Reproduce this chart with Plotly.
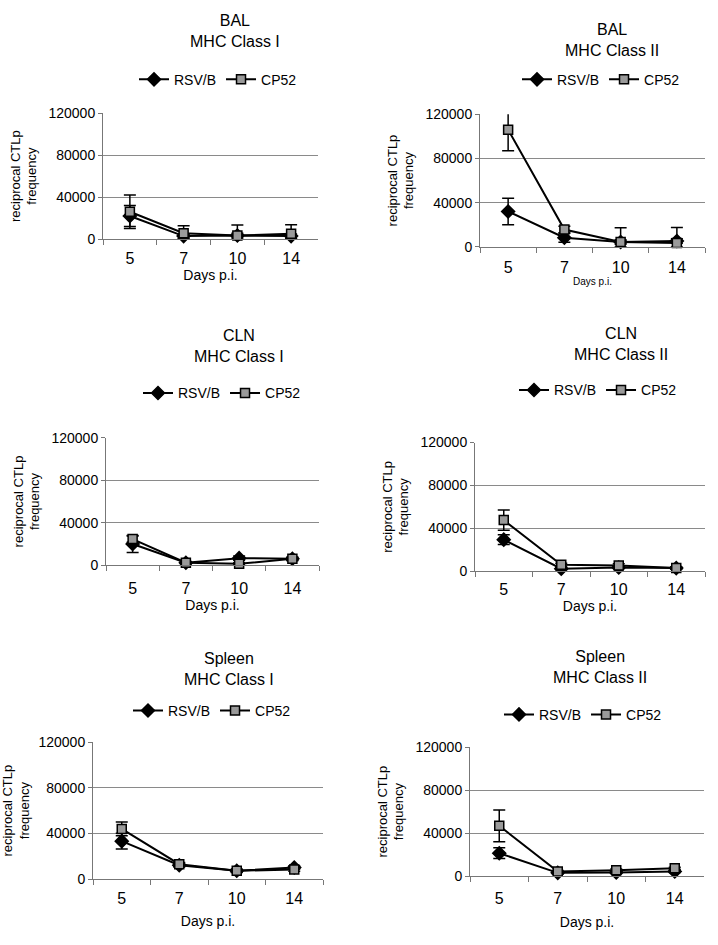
import plotly.graph_objects as go

days = ["5", "7", "10", "14"]

bal1_rsv = [22000, 2800, 3400, 2800]
bal1_rsv_err = [10000, 2000, 2000, 2000]
bal1_cp52 = [26000, 5600, 3400, 5000]
bal1_cp52_err = [16000, 7000, 10000, 8500]

bal2_rsv = [32000, 8300, 4400, 5300]
bal2_rsv_err = [12000, 4000, 2000, 2000]
bal2_cp52 = [106000, 15700, 4400, 3500]
bal2_cp52_err = [19000, 3000, 13000, 14000]

cln1_rsv = [20100, 2500, 6800, 6200]
cln1_rsv_err = [8000, 1000, 2000, 1500]
cln1_cp52 = [24700, 2500, 1500, 6200]
cln1_cp52_err = [3000, 1000, 1000, 1500]

cln2_rsv = [29500, 2400, 3600, 3000]
cln2_rsv_err = [4500, 1000, 1000, 1000]
cln2_cp52 = [47700, 6000, 5500, 3000]
cln2_cp52_err = [9500, 1500, 1500, 1000]

spl1_rsv = [33250, 12100, 7200, 10100]
spl1_rsv_err = [7000, 1500, 1000, 1500]
spl1_cp52 = [43950, 13000, 7200, 8400]
spl1_cp52_err = [6000, 1500, 1500, 1500]

spl2_rsv = [21300, 3000, 3300, 4300]
spl2_rsv_err = [5000, 1000, 1000, 1000]
spl2_cp52 = [46800, 4250, 5500, 7300]
spl2_cp52_err = [14800, 1000, 1000, 1000]

y_ticks = [0, 40000, 80000, 120000]
y_tick_labels = ["0", "40000", "80000", "120000"]
y_title = "reciprocal CTLp<br>frequency"
x_title = "Days p.i."

W, H = 718, 945
FONT = "Liberation Sans, Arial, sans-serif"


def fx(p):
    return p / W


def fy(p):
    return 1 - p / H


# panel: title, rsv, rsv_err, cp, cp_err, (x0,x1,y0,y1) page pixels,
# title center x, title center y, legend center x, legend y,
# x-title font size, tick-label standoff, x-title standoff
panels = [
    ("BAL<br>MHC Class I", bal1_rsv, bal1_rsv_err, bal1_cp52, bal1_cp52_err,
     (103, 318, 107, 235), 235, 23, 218, 73, 14, 5, 2),
    ("BAL<br>MHC Class II", bal2_rsv, bal2_rsv_err, bal2_cp52, bal2_cp52_err,
     (480, 705, 108, 243), 612, 33, 601, 73, 10, 6, 0),
    ("CLN<br>MHC Class I", cln1_rsv, cln1_rsv_err, cln1_cp52, cln1_cp52_err,
     (106, 319, 437, 567), 239, 344, 222, 392, 14, 8, 3),
    ("CLN<br>MHC Class II", cln2_rsv, cln2_rsv_err, cln2_cp52, cln2_cp52_err,
     (475, 705, 442, 573), 621, 342, 598, 389, 14, 4, 2),
    ("Spleen<br>MHC Class I", spl1_rsv, spl1_rsv_err, spl1_cp52, spl1_cp52_err,
     (93, 323, 747, 886), 229, 672, 212, 715, 14, 5, 10),
    ("Spleen<br>MHC Class II", spl2_rsv, spl2_rsv_err, spl2_cp52, spl2_cp52_err,
     (470, 704, 752, 883), 600, 670, 583, 719, 14, 8, 10),
]

fig = go.Figure()
annotations = []
layout = {}

for i, (title, rsv, rsv_e, cp, cp_e, box, tx, ty, lx, ly, xts, tso, xso) in enumerate(panels):
    n = i + 1
    xa = "x" if n == 1 else f"x{n}"
    ya = "y" if n == 1 else f"y{n}"
    lg = "legend" if n == 1 else f"legend{n}"
    x0, x1, y0, y1 = box
    for name, vals, errs, sym, size, fill in [
        ("RSV/B", rsv, rsv_e, "diamond", 10, "black"),
        ("CP52", cp, cp_e, "square", 9, "#9a9a9a"),
    ]:
        fig.add_trace(go.Scatter(
            x=days, y=vals, name=name, mode="lines+markers",
            xaxis=xa, yaxis=ya, legend=lg, cliponaxis=False,
            line=dict(color="black", width=2),
            marker=dict(symbol=sym, size=size, color=fill,
                        line=dict(color="black", width=1.5)),
            error_y=dict(type="data", array=errs,
                         arrayminus=[min(e, v) for e, v in zip(errs, vals)],
                         color="black", thickness=1.5, width=6),
        ))
    xkey = "xaxis" if n == 1 else f"xaxis{n}"
    ykey = "yaxis" if n == 1 else f"yaxis{n}"
    layout[xkey] = dict(
        domain=[fx(x0), fx(x1)], anchor=ya, type="category",
        range=[-0.5, 3.5], tickson="boundaries", ticks="outside", ticklen=5,
        tickcolor="#777", showline=True, linecolor="#777", linewidth=1,
        showgrid=False, tickfont=dict(size=16, color="black", family=FONT),
        ticklabelstandoff=tso,
        title=dict(text=x_title, font=dict(size=xts, color="black", family=FONT), standoff=xso),
        fixedrange=True,
    )
    layout[ykey] = dict(
        domain=[fy(y1), fy(y0)], anchor=xa, range=[0, 120000],
        tickvals=y_ticks, ticktext=y_tick_labels, ticks="outside", ticklen=4,
        tickcolor="#777", showline=True, linecolor="#777", linewidth=1,
        showgrid=True, gridcolor="#8a8a8a", gridwidth=1, zeroline=False,
        tickfont=dict(size=14, color="black", family=FONT),
        title=dict(text=y_title, font=dict(size=13, color="black", family=FONT), standoff=8),
        fixedrange=True,
    )
    layout[lg] = dict(
        orientation="h", x=fx(lx), y=fy(ly), xanchor="center", yanchor="middle",
        font=dict(size=14, color="black", family=FONT), itemwidth=30,
        bgcolor="rgba(0,0,0,0)", tracegroupgap=0,
    )
    annotations.append(dict(
        text=title, x=fx(tx), y=fy(ty), xref="paper", yref="paper",
        xanchor="center", yanchor="middle", showarrow=False,
        font=dict(size=16, color="black", family=FONT),
    ))

fig.update_layout(
    width=W, height=H, margin=dict(l=0, r=0, t=0, b=0),
    paper_bgcolor="white", plot_bgcolor="white",
    annotations=annotations, showlegend=True,
    font=dict(family=FONT, color="black"),
    **layout,
)

fig.write_html(
    "out.html",
    config={"displayModeBar": False},
    post_script="document.body.style.margin='0';document.body.style.overflow='hidden';",
)
